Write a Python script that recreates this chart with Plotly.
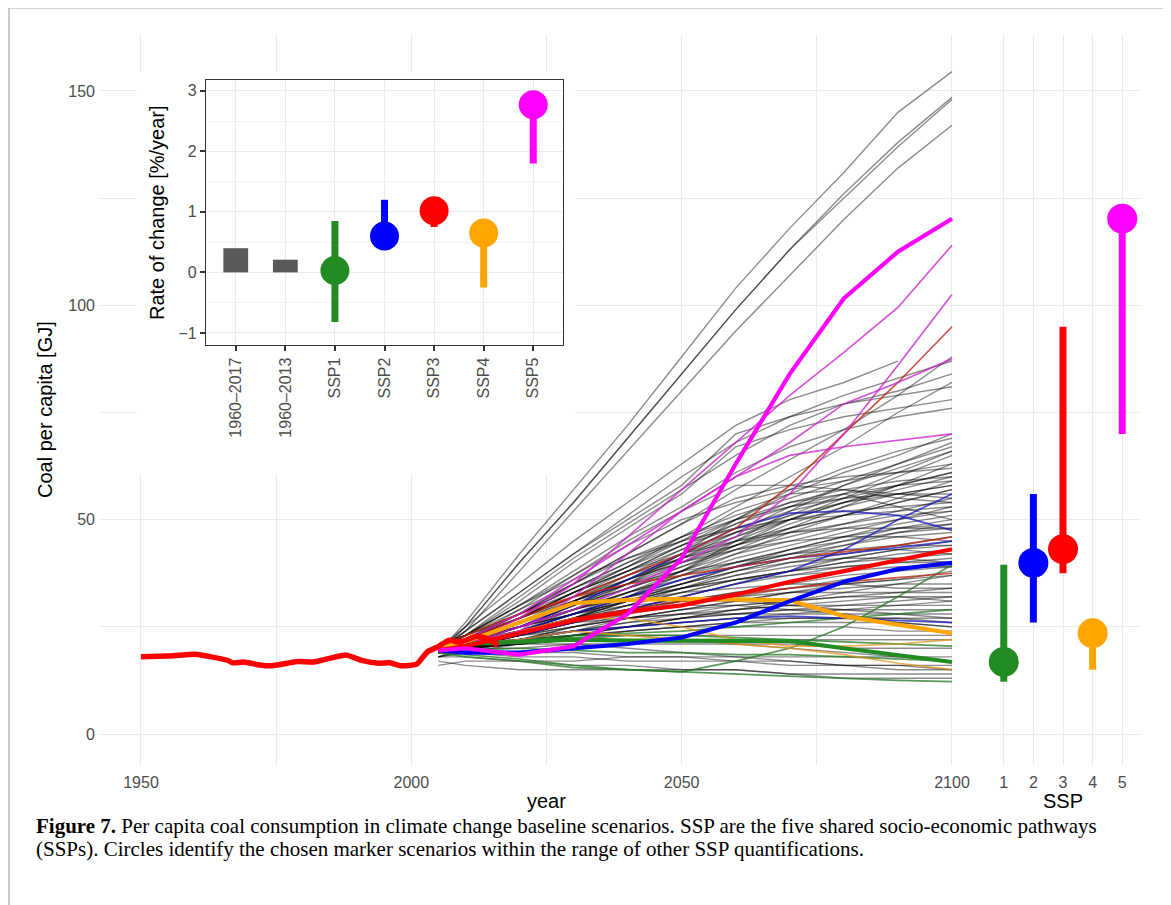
import plotly.graph_objects as go

# page body has an 8px margin: figure placed at (8,8) in the 1171x905 window
OFF = 8
W, H = 1163, 897

# ---------------- data ----------------
hist_years = [1950, 1955, 1960, 1963, 1966, 1967, 1969, 1972, 1974, 1977, 1979, 1982, 1985,
              1988, 1991, 1994, 1996, 1998, 2001, 2003, 2005, 2007, 2009, 2012, 2014, 2016]
hist_coal = [18.0, 18.2, 18.6, 18.0, 17.2, 16.6, 16.8, 16.1, 15.9, 16.5, 16.9, 16.8, 17.7,
             18.4, 17.1, 16.5, 16.6, 15.9, 16.3, 19.2, 20.4, 21.9, 21.4, 22.8, 22.3, 20.7]

scen_years = [2005, 2010, 2020, 2030, 2040, 2050, 2060, 2070, 2080, 2090, 2100]

gray_scenarios = [
    [19, 26, 42, 57, 72, 88, 104, 118, 131, 145, 154.5],
    [19, 25, 40, 54, 69, 84, 99, 113, 126, 138, 148.5],
    [19, 25, 40, 54, 69, 84, 99, 113, 125, 137, 148],
    [19, 24, 38, 52, 66, 80, 94, 107, 120, 132, 142],
    [19, 24, 33, 42, 51, 60, 68, 74, 79, 83, 87],
    [19, 23, 32, 41, 49, 57, 65, 72, 77, 80, 84],
    [20, 24, 33, 42, 50, 58, 70, 74, 77, 79, 81],
    [19, 23, 31, 40, 48, 56, 67, 71, 74, 76, 78],
    [20, 23, 30, 38, 46, 53, 61, 67, 71, 74, 76],
    [20, 25, 35, 45, 54, 63, 72, 78, 82, 87, None],
    [19, 22, 28, 35, 42, 49, 57, 64, 71, 79, 88],
    [20, 22, 27, 33, 39, 46, 53, 60, 67, 75, 82],
    [19, 21, 26, 32, 38, 44, 50, 56, 61, 65, 70],
    [20, 22, 28, 34, 40, 46, 51, 55, 59, 63, 67],
    [19, 21, 25, 30, 35, 41, 47, 53, 58, 62, 66],
    [20, 23, 30, 37, 44, 50, 54, 57, 59, 61, 63],
    [19, 21, 24, 28, 33, 38, 44, 50, 55, 60, 65],
    [20, 22, 27, 32, 37, 42, 46, 50, 54, 57, 60],
    [19, 22, 28, 35, 42, 49, 55, 58, 60, 61, 62],
    [20, 21, 25, 29, 34, 39, 44, 49, 53, 56, 58],
    [19, 21, 26, 31, 36, 41, 45, 48, 51, 54, 57],
    [20, 22, 27, 33, 39, 45, 52, 56, 57, 56, 55],
    [19, 22, 29, 37, 45, 52, 58, 58, 57, 55, 54],
    [19, 21, 25, 30, 35, 40, 45, 50, 54, 58, 61],
    [20, 22, 26, 30, 34, 38, 43, 48, 53, 58, 63],
    [18, 20, 24, 29, 35, 42, 50, 57, 62, 66, 69],
    [19, 21, 25, 29, 33, 37, 41, 44, 47, 50, 53],
    [20, 22, 26, 30, 34, 38, 42, 45, 48, 50, 52],
    [19, 20, 23, 27, 31, 35, 39, 42, 45, 48, 50],
    [20, 21, 24, 28, 32, 36, 40, 43, 46, 48, 49],
    [19, 21, 25, 29, 33, 36, 39, 42, 44, 46, 47],
    [20, 22, 27, 32, 36, 40, 43, 45, 46, 46, 45],
    [19, 20, 23, 26, 30, 34, 38, 41, 43, 44, 44],
    [20, 22, 26, 31, 35, 38, 40, 42, 43, 43, 42],
    [19, 21, 24, 27, 30, 33, 36, 38, 40, 41, 42],
    [20, 21, 24, 28, 32, 35, 38, 40, 41, 41, 40],
    [19, 22, 28, 34, 40, 45, 50, 54, 56, 53, 50],
    [20, 23, 30, 36, 41, 45, 48, 50, 51, 52, 53],
    [18, 20, 23, 27, 31, 35, 39, 43, 46, 49, 51],
    [21, 23, 28, 33, 38, 42, 45, 47, 48, 48, 48],
    [19, 21, 24, 27, 31, 34, 37, 40, 42, 44, 46],
    [20, 22, 25, 28, 31, 34, 37, 39, 41, 43, 44],
    [19, 20, 22, 25, 28, 31, 33, 35, 37, 38, 39],
    [20, 21, 23, 26, 29, 31, 33, 34, 35, 36, 37],
    [19, 20, 22, 24, 27, 29, 31, 33, 34, 35, 35],
    [20, 21, 24, 27, 29, 31, 32, 33, 33, 33, 33],
    [19, 20, 21, 23, 25, 27, 29, 30, 31, 32, 32],
    [20, 21, 23, 25, 27, 28, 29, 30, 30, 30, 30],
    [19, 20, 22, 24, 26, 27, 28, 28, 28, 28, 28],
    [20, 22, 25, 28, 30, 31, 31, 30, 29, 28, 27],
    [19, 20, 21, 22, 24, 25, 26, 27, 27, 27, 26],
    [20, 21, 22, 23, 24, 25, 25, 25, 25, 24, 24],
    [19, 21, 24, 27, 29, 30, 30, 29, 28, 26, 25],
    [21, 22, 25, 28, 31, 33, 34, 35, 35, 34, 34],
    [19, 20, 21, 22, 22, 22, 22, 22, 22, 22, 22],
    [20, 20, 20, 21, 21, 21, 21, 21, 20, 20, 20],
    [18, 18, 17, 17, 18, 18, 18, 18, 18, 18, 18],
    [19, 19, 18, 18, 17, 17, 17, 16, 16, 16, 16],
    [17, 16, 15, 15, 15, 15, 15, 14, 14, 14, 14],
    [20, 21, 22, 23, 23, 22, 21, 20, 19, 18, 17],
    [19, 20, 21, 21, 20, 19, 18, 17, 16, 15, 15],
    [16, 17, 17, 16, 16, 15, 15, 14, 13, 13, 13],
    [18, 19, 19, 19, 18, 18, 17, 17, 16, 16, 15],
    [19, 21, 25, 30, 36, 42, 47, 51, 54, 56, 58],
    [20, 22, 27, 33, 38, 43, 47, 50, 52, 53, 54],
    [19, 21, 26, 31, 37, 43, 49, 54, 57, 59, 60],
    [20, 23, 29, 35, 41, 46, 50, 53, 55, 56, 56],
    [19, 21, 24, 28, 32, 37, 42, 47, 51, 55, 59],
    [20, 22, 26, 31, 36, 41, 46, 51, 56, 61, 66],
    [19, 20, 23, 27, 32, 38, 45, 52, 58, 63, 68],
    [20, 22, 27, 32, 37, 41, 44, 47, 49, 51, 52],
    [19, 21, 25, 29, 32, 35, 38, 41, 44, 47, 49],
    [20, 22, 25, 29, 33, 37, 40, 43, 45, 47, 48],
    [19, 20, 23, 26, 29, 32, 35, 38, 41, 43, 45],
    [20, 21, 24, 27, 30, 33, 36, 38, 40, 42, 43],
    [19, 21, 24, 28, 31, 34, 36, 38, 39, 40, 41],
    [20, 22, 26, 29, 32, 34, 36, 37, 38, 39, 39],
    [19, 20, 22, 25, 27, 29, 31, 33, 35, 36, 38],
    [20, 21, 23, 26, 28, 30, 32, 34, 36, 38, 40],
    [19, 21, 23, 25, 27, 29, 30, 31, 32, 33, 34],
    [20, 21, 22, 24, 26, 28, 30, 31, 32, 32, 31],
    [19, 20, 22, 23, 25, 26, 27, 28, 29, 30, 31],
    [20, 22, 24, 26, 27, 28, 28, 29, 29, 29, 29],
    [19, 20, 21, 23, 24, 25, 26, 26, 26, 26, 25],
    [21, 23, 27, 31, 35, 39, 43, 46, 49, 52, 55],
    [20, 23, 28, 34, 39, 44, 48, 52, 55, 58, 61],
    [19, 22, 27, 33, 38, 44, 49, 53, 56, 58, 59],
    [20, 22, 26, 31, 36, 40, 44, 48, 51, 54, 57],
    [18, 19, 21, 23, 25, 27, 29, 31, 33, 35, 37],
    [20, 21, 23, 24, 25, 26, 27, 27, 27, 27, 27],
    [19, 20, 21, 22, 23, 23, 23, 23, 23, 23, 23],
    [20, 21, 22, 24, 25, 27, 28, 29, 30, 31, 32],
    [19, 21, 23, 26, 29, 32, 35, 37, 39, 40, 40],
]

# thin coloured lines: other quantifications of each SSP
ssp1_others = [
    [19, 18, 17, 15.5, 15, 14.5, 14, 13.5, 13, 12.5, 12.2],
    [19, 18.5, 17.5, 16, 15, 14.5, 17, 20, 25, 32, 39.5],
    [20, 21, 22, 22.5, 23, 23, 22.5, 22, 21.5, 21, 20.5],
    [19, 19.5, 20, 19.5, 19, 19, 18.5, 18.5, 18, 17.5, 17],
    [20, 21, 22, 23, 23.5, 24, 25, 26, 27, 28, 29],
]
ssp2_others = [
    [20, 21, 23, 26, 29, 32, 35, 38, 43, 50, 56],
    [20, 22, 25, 30, 36, 42, 48, 51.5, 52, 51, 47.5],
    [20, 21, 24, 28, 32, 36, 39, 41, 42, 43.5, 45],
    [20, 21, 22, 24, 25, 26, 27, 27.5, 27, 26.5, 26],
]
ssp3_others = [
    [20, 22, 27, 32, 37, 42, 48, 58, 70, 82, 95],
    [20, 23, 28, 32, 35, 37, 39, 41, 42.5, 44, 46],
    [20, 21, 24, 27, 29, 31, 32.5, 34, 35.5, 36.5, 37.5],
]
ssp4_others = [
    [20, 21, 22, 24, 23, 22, 21, 20, 18.5, 16.5, 15],
    [20, 21, 24, 27, 27, 25, 22, 20.5, 20.5, 21, 22],
]
ssp5_others = [
    [20, 21, 27, 35, 46, 57, 68, 79, 89, 99.5, 114],
    [20, 21, 25, 29, 34, 40, 46, 56, 70, 86, 102.5],
    [20, 22, 28, 36, 44, 52, 60, 68, 77, 82, 87.5],
    [20, 21, 24, 32, 42, 52, 60, 65, 67, 68.5, 70],
]

# marker scenarios (thick lines)
ssp1_marker = [20, 21, 21.5, 22, 21.8, 21.7, 21.8, 21.7, 20, 18.5, 16.8]
ssp2_marker = [19.5, 19, 19, 20, 21, 22.5, 26, 31, 35.5, 38.5, 39.9]
ssp3_marker = [19.5, 20.5, 23.5, 26.5, 28.5, 30, 32.5, 35.5, 38, 40.5, 43.1]
ssp4_marker = [20, 21.5, 26, 30.5, 31.3, 31.5, 31.4, 31.2, 27.5, 25.5, 23.5]
ssp5_marker = [19.5, 20, 18.5, 20.5, 28, 41, 63, 84, 101.6, 112.5, 120.2]

ssp_labels = [1, 2, 3, 4, 5]
ssp_colors = ["#228B22", "#0000FF", "#FF0000", "#FFA500", "#FF00FF"]
ssp_thin_colors = ["rgba(34,120,34,0.75)", "rgba(20,20,190,0.75)", "rgba(190,40,20,0.8)",
                   "rgba(225,150,30,0.75)", "rgba(205,40,205,0.8)"]

# inset: rate of change [%/year]
inset_categories = ["1960–2017", "1960–2013", "SSP1", "SSP2", "SSP3", "SSP4", "SSP5"]
hist_rate_periods = ["1960–2017", "1960–2013"]
hist_rates = [0.40, 0.21]
inset_ssp = ["SSP1", "SSP2", "SSP3", "SSP4", "SSP5"]
rate_low = [-0.82, 0.45, 0.75, -0.25, 1.80]
rate_high = [0.85, 1.20, 1.02, 0.65, 2.77]
rate_marker = [0.03, 0.60, 1.02, 0.65, 2.77]

caption_line1 = ("<b>Figure 7.</b> Per capita coal consumption in climate change baseline scenarios. "
                 "SSP are the five shared socio-economic pathways")
caption_line2 = ("(SSPs). Circles identify the chosen marker scenarios within the range of other "
                 "SSP quantifications.")

# ---------------- figure ----------------
fig = go.Figure()


def px_x(p):
    return (p - OFF) / W


def px_y(p):
    return 1 - (p - OFF) / H


# main panel lines
for s in gray_scenarios:
    fig.add_trace(go.Scatter(x=scen_years, y=s, mode="lines", xaxis="x", yaxis="y",
                             line=dict(color="rgba(0,0,0,0.45)", width=1.4),
                             hoverinfo="skip", connectgaps=False))

others = [ssp1_others, ssp2_others, ssp3_others, ssp4_others, ssp5_others]
markers = [ssp1_marker, ssp2_marker, ssp3_marker, ssp4_marker, ssp5_marker]
for grp, col in zip(others, ssp_thin_colors):
    for s in grp:
        fig.add_trace(go.Scatter(x=scen_years, y=s, mode="lines", xaxis="x", yaxis="y",
                                 line=dict(color=col, width=1.7), hoverinfo="skip"))

for i in [0, 3, 1, 2, 4]:
    fig.add_trace(go.Scatter(x=scen_years, y=markers[i], mode="lines", xaxis="x", yaxis="y",
                             line=dict(color=ssp_colors[i], width=4.2)))

fig.add_trace(go.Scatter(x=hist_years, y=hist_coal, mode="lines", xaxis="x", yaxis="y",
                         line=dict(color="#FF0000", width=5.5, shape="spline", smoothing=0.4)))

# white mask behind the inset (hides the main panel grid there)
fig.add_trace(go.Scatter(x=[0, 1, 1, 0, 0], y=[0, 0, 1, 1, 0], mode="lines", fill="toself",
                         fillcolor="white", line=dict(width=0, color="white"),
                         xaxis="x2", yaxis="y2", hoverinfo="skip"))

# inset
fig.add_trace(go.Bar(x=hist_rate_periods, y=hist_rates, width=0.5, marker_color="#595959",
                     marker_line_width=0, xaxis="x3", yaxis="y3"))
for c, lo, hi, col in zip(inset_ssp, rate_low, rate_high, ssp_colors):
    fig.add_trace(go.Scatter(x=[c, c], y=[lo, hi], mode="lines", line=dict(color=col, width=7),
                             xaxis="x3", yaxis="y3"))
fig.add_trace(go.Scatter(x=inset_ssp, y=rate_marker, mode="markers",
                         marker=dict(color=ssp_colors, size=29, line=dict(width=0)),
                         xaxis="x3", yaxis="y3"))

# SSP panel: range of 2100 values across quantifications
for i, lab in enumerate(ssp_labels):
    vals = [s[-1] for s in others[i]] + [markers[i][-1]]
    fig.add_trace(go.Scatter(x=[lab, lab], y=[min(vals), max(vals)], mode="lines",
                             line=dict(color=ssp_colors[i], width=7), xaxis="x4", yaxis="y4"))
fig.add_trace(go.Scatter(x=ssp_labels, y=[m[-1] for m in markers], mode="markers",
                         marker=dict(color=ssp_colors, size=30, line=dict(width=0)),
                         xaxis="x4", yaxis="y4"))

grid = "#ebebeb"
tickfont = dict(family="Liberation Sans, Arial, sans-serif", size=16, color="#4d4d4d")
main_dom_y = [px_y(765), px_y(35)]
yr = [-7.23, 163.05]

fig.update_layout(
    width=W, height=H, margin=dict(l=0, r=0, t=0, b=0),
    paper_bgcolor="white", plot_bgcolor="white", showlegend=False,
    font=dict(family="Liberation Sans, Arial, sans-serif"),
    xaxis=dict(domain=[px_x(100), px_x(986)], range=[1942.42, 2106.29], anchor="y",
               tickvals=[1950, 2000, 2050, 2100], showgrid=True, gridcolor=grid, gridwidth=1.2,
               minor=dict(tickvals=[1975, 2025, 2075], showgrid=True, gridcolor=grid, gridwidth=1.2),
               zeroline=False, ticks="", tickfont=tickfont, ticklabelstandoff=6, fixedrange=True),
    yaxis=dict(domain=main_dom_y, range=yr, anchor="x",
               tickvals=[0, 50, 100, 150], showgrid=True, gridcolor=grid, gridwidth=1.2,
               minor=dict(tickvals=[25, 75, 125], showgrid=True, gridcolor=grid, gridwidth=1.2),
               zeroline=False, ticks="", tickfont=tickfont, ticklabelstandoff=4),
    xaxis2=dict(domain=[px_x(137), px_x(575)], range=[0, 1], visible=False, anchor="y2"),
    yaxis2=dict(domain=[px_y(475), px_y(72)], range=[0, 1], visible=False, anchor="x2"),
    xaxis3=dict(domain=[px_x(206), px_x(563)], anchor="y3", type="category",
                categoryorder="array", categoryarray=inset_categories, range=[-0.6, 6.6],
                tickangle=-90, showgrid=True, gridcolor=grid, gridwidth=1.2,
                showline=True, mirror=True, linecolor="#333333", linewidth=1.3,
                ticks="outside", ticklen=5, tickwidth=1.6, tickcolor="#333333",
                tickfont=tickfont),
    yaxis3=dict(domain=[px_y(345), px_y(80)], anchor="x3", range=[-1.2, 3.18],
                tickvals=[-1, 0, 1, 2, 3], showgrid=True, gridcolor=grid, gridwidth=1.2,
                minor=dict(tickvals=[-0.5, 0.5, 1.5, 2.5], showgrid=True, gridcolor="#f3f3f3",
                           gridwidth=0.8),
                zeroline=False, showline=True, mirror=True, linecolor="#333333", linewidth=1.3,
                ticks="outside", ticklen=5, tickwidth=1.6, tickcolor="#333333",
                tickfont=tickfont),
    xaxis4=dict(domain=[px_x(986), px_x(1140)], anchor="y4", range=[0.4, 5.6],
                tickvals=ssp_labels, showgrid=True, gridcolor=grid, gridwidth=1.2,
                zeroline=False, ticks="", tickfont=tickfont, ticklabelstandoff=6),
    yaxis4=dict(domain=main_dom_y, anchor="x4", range=yr, tickvals=[0, 50, 100, 150],
                showticklabels=False, showgrid=True, gridcolor=grid, gridwidth=1.2,
                minor=dict(tickvals=[25, 75, 125], showgrid=True, gridcolor=grid, gridwidth=1.2),
                zeroline=False, ticks=""),
)

title_font = dict(family="Liberation Sans, Arial, sans-serif", size=20, color="black")
ann = [
    dict(text="Coal per capita [GJ]", x=px_x(45), y=px_y(410), textangle=-90, font=title_font),
    dict(text="year", x=px_x(546), y=px_y(801), font=title_font),
    dict(text="SSP", x=px_x(1063), y=px_y(801), font=title_font),
    dict(text="Rate of change [%/year]", x=px_x(157), y=px_y(213), textangle=-90, font=title_font),
]
for a in ann:
    fig.add_annotation(xref="paper", yref="paper", showarrow=False, xanchor="center",
                       yanchor="middle", borderpad=0, **a)

cap_font = dict(family="Liberation Serif, Times New Roman, serif", size=21, color="black")
for txt, yc in [(caption_line1, 826), (caption_line2, 849)]:
    fig.add_annotation(xref="paper", yref="paper", x=px_x(35), y=px_y(yc), xanchor="left",
                       yanchor="middle", align="left", showarrow=False, borderpad=0,
                       text=txt, font=cap_font)

fig.add_shape(type="rect", xref="paper", yref="paper", x0=px_x(9), x1=px_x(1165),
              y0=-0.05, y1=px_y(8), line=dict(color="#a6a6a6", width=1.2),
              fillcolor="rgba(0,0,0,0)")

fig.write_html("out.html")
